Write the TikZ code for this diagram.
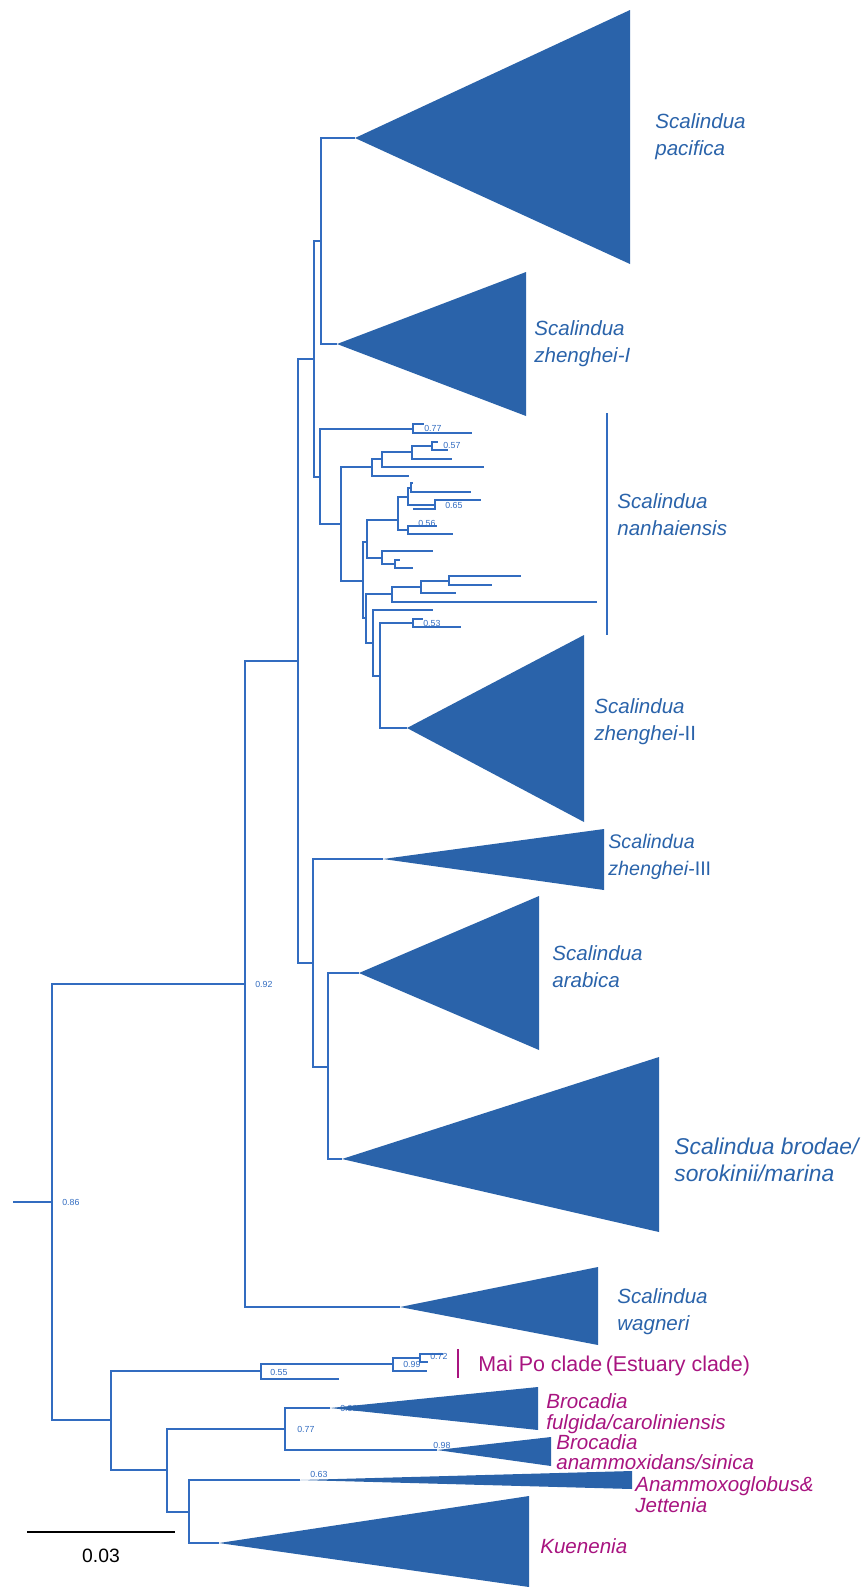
\documentclass[tikz,border=0pt]{standalone}
\usepackage{fontspec}
\setmainfont{Liberation Sans}

\definecolor{treeblue}{RGB}{42,99,170}
\definecolor{lineblue}{RGB}{50,108,192}
\definecolor{cladepink}{RGB}{168,20,128}

\tikzset{
  branch/.style={draw=lineblue, line width=1pt},
  clade/.style={fill=treeblue},
  support/.style={font=\fontsize{5}{6}\selectfont, text=lineblue, anchor=west, inner sep=0pt},
  bluename/.style={font=\fontsize{11.7}{15.4}\selectfont\itshape, text=treeblue, align=left, anchor=west, inner sep=0pt},
  pinkname/.style={font=\fontsize{11.7}{12}\selectfont\itshape, text=cladepink, align=left, anchor=west, inner sep=0pt}
}

\begin{document}
\begin{tikzpicture}[x=0.02cm, y=-0.02cm]
    \useasboundingbox (0,0) rectangle (862,1587);

    % Internal nodes (x of the vertical bar, y of the stem)
    \coordinate (stub) at (13,1202);
    \coordinate (root) at (52,1202);
    \coordinate (n092) at (245,984);
    \coordinate (nB) at (298,661);
    \coordinate (nA) at (314,359);
    \coordinate (nC) at (321,241);
    \coordinate (nD) at (320,477);
    \coordinate (n077) at (413,429);
    \coordinate (nE) at (341,524);
    \coordinate (nF) at (372,467);
    \coordinate (nG) at (382,459);
    \coordinate (nH) at (412,452);
    \coordinate (n057) at (432,446);
    \coordinate (nJ) at (363,581);
    \coordinate (nK) at (367,542);
    \coordinate (nL) at (398,520);
    \coordinate (nM) at (408,497);
    \coordinate (nM1) at (411,488);
    \coordinate (n065) at (435,505);
    \coordinate (n056) at (408,530);
    \coordinate (nN) at (382,558);
    \coordinate (nO) at (395,564);
    \coordinate (nP) at (366,618);
    \coordinate (nQ) at (392,594);
    \coordinate (nR) at (421,587);
    \coordinate (nS) at (449,581);
    \coordinate (nT) at (373,643);
    \coordinate (nU) at (380,676);
    \coordinate (n053) at (413,623);
    \coordinate (nZ) at (313,963);
    \coordinate (nAr) at (328,1067);
    \coordinate (nLow) at (111,1420);
    \coordinate (n055) at (261,1371);
    \coordinate (n099) at (393,1364);
    \coordinate (n072) at (420,1358);
    \coordinate (nBr) at (167,1470);
    \coordinate (n077b) at (285,1429);
    \coordinate (nKu) at (189,1512);

    % Collapsed clades (apex)
    \coordinate (pac) at (355,138);
    \coordinate (zI) at (337,344);
    \coordinate (zII) at (407,728);
    \coordinate (zIII) at (383,859);
    \coordinate (arab) at (359,973);
    \coordinate (brod) at (342,1159);
    \coordinate (wag) at (400,1307);
    \coordinate (fulg) at (330,1408);
    \coordinate (anam) at (437,1450);
    \coordinate (glob) at (300,1480);
    \coordinate (kuen) at (219,1543);

    % Support values (drawn first, triangles may cover them)
    \node[support] at (62,1202) {0.86};
    \node[support] at (255,984) {0.92};
    \node[support] at (424,428) {0.77};
    \node[support] at (443,445) {0.57};
    \node[support] at (445,505) {0.65};
    \node[support] at (418,523) {0.56};
    \node[support] at (423,623) {0.53};
    \node[support] at (270,1372) {0.55};
    \node[support] at (403,1364) {0.99};
    \node[support] at (430,1356) {0.72};
    \node[support] at (297,1429) {0.77};
    \node[support] at (340,1408) {0.99};
    \node[support] at (433,1445) {0.98};
    \node[support] at (310,1474) {0.63};

    % Backbone
    \draw[branch] (stub) -- (root);
    \draw[branch] (root) |- (n092);
    \draw[branch] (root) |- (nLow);
    \draw[branch] (n092) |- (nB);
    \draw[branch] (n092) |- (wag);
    \draw[branch] (nB) |- (nA);
    \draw[branch] (nB) |- (nZ);
    \draw[branch] (nA) |- (nC);
    \draw[branch] (nA) |- (nD);
    \draw[branch] (nC) |- (pac);
    \draw[branch] (nC) |- (zI);

    % Scalindua nanhaiensis
    \draw[branch] (nD) |- (n077);
    \draw[branch] (nD) |- (nE);
    \draw[branch] (n077) |- (424,424);
    \draw[branch] (n077) |- (472,433);
    \draw[branch] (nE) |- (nF);
    \draw[branch] (nE) |- (nJ);
    \draw[branch] (nF) |- (nG);
    \draw[branch] (nF) |- (409,476);
    \draw[branch] (nG) |- (nH);
    \draw[branch] (nG) |- (484,467);
    \draw[branch] (nH) |- (n057);
    \draw[branch] (nH) |- (452,459);
    \draw[branch] (n057) |- (438,442);
    \draw[branch] (n057) |- (448,450);
    \draw[branch] (nJ) |- (nK);
    \draw[branch] (nJ) |- (nP);
    \draw[branch] (nK) |- (nL);
    \draw[branch] (nK) |- (nN);
    \draw[branch] (nL) |- (nM);
    \draw[branch] (nL) |- (n056);
    \draw[branch] (nM) |- (nM1);
    \draw[branch] (nM) |- (n065);
    \draw[branch] (nM1) |- (413,483);
    \draw[branch] (nM1) |- (471,492);
    \draw[branch] (n065) |- (481,500);
    \draw[branch] (n065) |- (413,509);
    \draw[branch] (n056) |- (437,526);
    \draw[branch] (n056) |- (453,534);
    \draw[branch] (nN) |- (433,551);
    \draw[branch] (nN) |- (nO);
    \draw[branch] (nO) |- (400,560);
    \draw[branch] (nO) |- (413,568);
    \draw[branch] (nP) |- (nQ);
    \draw[branch] (nP) |- (nT);
    \draw[branch] (nQ) |- (nR);
    \draw[branch] (nQ) |- (597,602);
    \draw[branch] (nR) |- (nS);
    \draw[branch] (nR) |- (456,593);
    \draw[branch] (nS) |- (521,576);
    \draw[branch] (nS) |- (492,585);
    \draw[branch] (nT) |- (433,610);
    \draw[branch] (nT) |- (nU);
    \draw[branch] (nU) |- (n053);
    \draw[branch] (nU) |- (zII);
    \draw[branch] (n053) |- (423,619);
    \draw[branch] (n053) |- (461,627);

    % Lower Scalindua
    \draw[branch] (nZ) |- (zIII);
    \draw[branch] (nZ) |- (nAr);
    \draw[branch] (nAr) |- (arab);
    \draw[branch] (nAr) |- (brod);

    % Mai Po, Brocadia, Kuenenia
    \draw[branch] (nLow) |- (n055);
    \draw[branch] (nLow) |- (nBr);
    \draw[branch] (n055) |- (n099);
    \draw[branch] (n055) |- (339,1379);
    \draw[branch] (n099) |- (n072);
    \draw[branch] (n099) |- (427,1371);
    \draw[branch] (n072) |- (443,1354);
    \draw[branch] (n072) |- (428,1362);
    \draw[branch] (nBr) |- (n077b);
    \draw[branch] (nBr) |- (nKu);
    \draw[branch] (n077b) |- (fulg);
    \draw[branch] (n077b) |- (anam);
    \draw[branch] (nKu) |- (glob);
    \draw[branch] (nKu) |- (kuen);

    % Triangles
    \fill[clade] (pac) -- (630,10) -- (630,264) -- cycle;
    \fill[clade] (zI) -- (526,272) -- (526,416) -- cycle;
    \fill[clade] (zII) -- (584,635) -- (584,822) -- cycle;
    \fill[clade] (zIII) -- (604,829) -- (604,890) -- cycle;
    \fill[clade] (arab) -- (539,896) -- (539,1050) -- cycle;
    \fill[clade] (brod) -- (659,1057) -- (659,1232) -- cycle;
    \fill[clade] (wag) -- (598,1267) -- (598,1345) -- cycle;
    \fill[clade] (fulg) -- (538,1387) -- (538,1430) -- cycle;
    \fill[clade] (anam) -- (551,1437) -- (551,1466) -- cycle;
    \fill[clade] (glob) -- (632,1471) -- (632,1489) -- cycle;
    \fill[clade] (kuen) -- (529,1496) -- (529,1587) -- cycle;

    % Bars
    \draw[lineblue, line width=1.5pt] (607,413) -- (607,635);
    \draw[cladepink, line width=1.5pt] (458,1349) -- (458,1378);

    % Clade names
    \node[bluename] (lpac) at (655,137) {Scalindua\\pacifica};
    \node[bluename] (lzI) at (534,344) {Scalindua\\zhenghei-I};
    \node[bluename] (lnan) at (617,515) {Scalindua\\nanhaiensis};
    \node[bluename] (lzII) at (594,722) {Scalindua\\zhenghei-\textup{II}};
    \node[bluename, font=\fontsize{11.2}{15}\selectfont\itshape] (lzIII) at (608,857) {Scalindua\\zhenghei-\textup{III}};
    \node[bluename] (larab) at (552,967) {Scalindua\\arabica};
    \node[bluename, font=\fontsize{13}{15.4}\selectfont\itshape] (lbrod) at (674,1160) {Scalindua brodae/\\sorokinii/marina};
    \node[bluename] (lwag) at (617,1312) {Scalindua\\wagneri};
    \node[pinkname, font=\fontsize{12.2}{14}\selectfont] (lmai) at (478,1366) {Mai Po clade\,(Estuary clade)};
    \node[pinkname] (lfulg) at (546,1414) {Brocadia\\fulgida/caroliniensis};
    \node[pinkname, font=\fontsize{11.7}{11.2}\selectfont\itshape] (lanam) at (556,1452) {Brocadia\\anammoxidans/sinica};
    \node[pinkname, font=\fontsize{11.7}{10.8}\selectfont\itshape] (lglob) at (635,1495) {Anammoxoglobus\&\\Jettenia};
    \node[pinkname] (lkuen) at (540,1546) {Kuenenia};

    % Scale bar
    \draw[line width=1.2pt] (27,1532) -- (175,1532);
    \node[font=\fontsize{11}{13}\selectfont] (scale) at (101,1556) {0.03};

\end{tikzpicture}
\end{document}
